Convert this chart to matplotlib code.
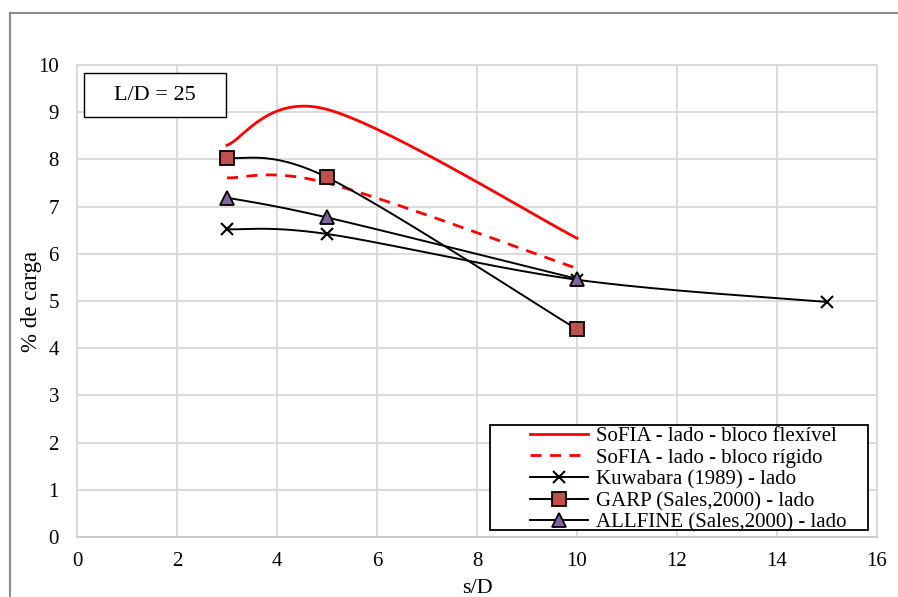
import numpy as np
import matplotlib
matplotlib.use("Agg")
import matplotlib.pyplot as plt
from matplotlib.lines import Line2D

plt.rcParams['font.family'] = ['Liberation Serif', 'DejaVu Serif']

# s/D values and load percentages per method
sd_sofia = [3, 5, 10]
sofia_flexivel = [8.30, 9.06, 6.33]
sofia_rigido = [7.61, 7.50, 5.69]

sd_kuwabara = [3, 5, 10, 15]
kuwabara = [6.52, 6.42, 5.45, 4.98]

sd_sales = [3, 5, 10]
garp = [8.04, 7.62, 4.40]
allfine = [7.19, 6.77, 5.47]

labels = [
    "SoFIA - lado - bloco flexível",
    "SoFIA - lado - bloco rígido",
    "Kuwabara (1989) - lado",
    "GARP (Sales,2000) - lado",
    "ALLFINE (Sales,2000) - lado",
]


def smooth(xs, ys, n=60):
    """Piecewise cubic Bezier through the points (spreadsheet-style smoothed line)."""
    p = np.column_stack([xs, ys]).astype(float)
    m = len(p)
    out = []
    for i in range(m - 1):
        p0 = p[i - 1] if i > 0 else p[i]
        p1 = p[i]
        p2 = p[i + 1]
        p3 = p[i + 2] if i + 2 < m else p[i + 1]
        c1 = p1 + (p2 - p0) / 6.0
        c2 = p2 - (p3 - p1) / 6.0
        t = np.linspace(0, 1, n)[:, None]
        seg = ((1 - t) ** 3) * p1 + 3 * ((1 - t) ** 2) * t * c1 + 3 * (1 - t) * t ** 2 * c2 + t ** 3 * p2
        out.append(seg if i == 0 else seg[1:])
    s = np.vstack(out)
    return s[:, 0], s[:, 1]


fig = plt.figure(figsize=(8.98, 5.97), dpi=100)
ax = fig.add_axes([77 / 898, 1 - 537 / 597, 800 / 898, 472 / 597])

grid_c = "#d9d9d9"
ax.set_xlim(0, 16)
ax.set_ylim(0, 10)
ax.set_xticks(range(0, 17, 2))
ax.set_yticks(range(0, 11, 1))
ax.grid(True, color=grid_c, linewidth=1.3)
ax.set_axisbelow(True)
for sp in ax.spines.values():
    sp.set_color(grid_c)
    sp.set_linewidth(1.3)
ax.spines['bottom'].set_color("#c8c8c8")
ax.tick_params(length=0, labelsize=15, colors="black")
ax.tick_params(axis="y", pad=13)
ax.tick_params(axis="x", pad=11)

# SoFIA curves
x, y = smooth(sd_sofia, sofia_flexivel)
ax.plot(x, y, color="red", lw=2.0, zorder=3)
x, y = smooth(sd_sofia, sofia_rigido)
ax.plot(x, y, color="red", lw=2.0, ls=(0, (4, 3)), zorder=3)

# Kuwabara
x, y = smooth(sd_kuwabara, kuwabara)
ax.plot(x, y, color="black", lw=1.4, zorder=4)
ax.plot(sd_kuwabara, kuwabara, ls="none", marker="x", ms=9, mew=1.5, color="black", zorder=5)

# GARP
x, y = smooth(sd_sales, garp)
ax.plot(x, y, color="black", lw=1.4, zorder=4)
ax.plot(sd_sales, garp, ls="none", marker="s", ms=10, mfc="#c0504d", mec="black", mew=1.3, zorder=6)

# ALLFINE
x, y = smooth(sd_sales, allfine)
ax.plot(x, y, color="black", lw=1.4, zorder=4)
ax.plot(sd_sales, allfine, ls="none", marker="^", ms=10, mfc="#8064a2", mec="black", mew=1.3, zorder=6)

ax.set_xlabel("s/D", fontsize=16, labelpad=5.5)
ax.set_ylabel("% de carga", fontsize=16.5, labelpad=-3)

handles = [
    Line2D([], [], color="red", lw=2.0),
    Line2D([], [], color="red", lw=2.0, ls=(0, (4, 3))),
    Line2D([], [], color="black", lw=1.4, marker="x", ms=9, mew=1.5),
    Line2D([], [], color="black", lw=1.4, marker="s", ms=10, mfc="#c0504d", mec="black", mew=1.3),
    Line2D([], [], color="black", lw=1.4, marker="^", ms=10, mfc="#8064a2", mec="black", mew=1.3),
]
leg = ax.legend(handles, labels, loc="upper left", bbox_to_anchor=(530 / 898, 1 - 426.5 / 597),
                bbox_transform=fig.transFigure, fontsize=15, frameon=False,
                handlelength=2.8, handletextpad=0.35,
                labelspacing=0.1, borderpad=0, borderaxespad=0)
leg.set_zorder(10)

# legend frame
ax.add_patch(plt.Rectangle((490 / 898, 1 - 530 / 597), 378 / 898, 105 / 597,
                           transform=fig.transFigure, facecolor="white",
                           edgecolor="black", lw=1.3, zorder=8, clip_on=False))

# L/D annotation box
ax.add_patch(plt.Rectangle((84 / 898, 1 - 117 / 597), 142 / 898, 44 / 597,
                           transform=fig.transFigure, facecolor="white",
                           edgecolor="black", lw=1.0, zorder=8, clip_on=False))
ax.text(155 / 898, 1 - 95 / 597, "L/D = 25", transform=fig.transFigure,
        fontsize=16, ha="center", va="center", zorder=9)

# outer chart frame
fig.add_artist(Line2D([10 / 898, 898 / 898], [1 - 13 / 597, 1 - 13 / 597],
                      transform=fig.transFigure, color="#8c8c8c", lw=1.5))
fig.add_artist(Line2D([10 / 898, 10 / 898], [1 - 13 / 597, 0],
                      transform=fig.transFigure, color="#8c8c8c", lw=1.5))

fig.savefig("out.png", dpi=100)
